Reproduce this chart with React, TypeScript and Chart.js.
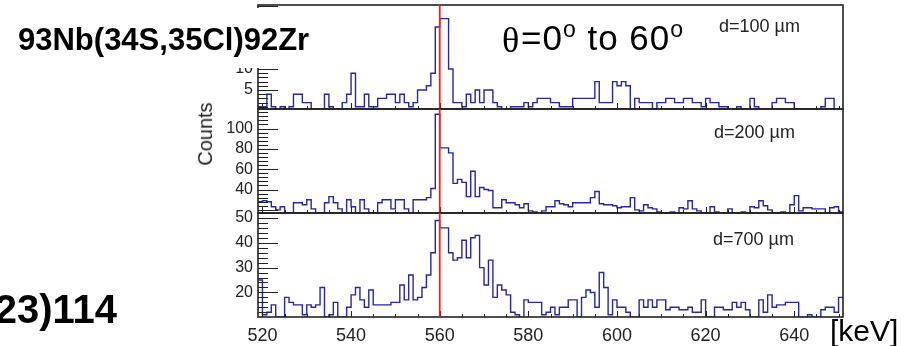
import React, { useEffect, useRef } from "react";
import { Chart, registerables } from "chart.js";

Chart.register(...registerables);

// ---------------- data ----------------
const BIN_START_KEV = 519; // 1 keV bins
const X_MIN = 519;
const X_MAX = 651;
const X_TICK_LABELS = [520, 540, 560, 580, 600, 620, 640];
const RED_LINE_KEV = 560;

const COUNTS_D100 = [
  1, 1, 4, 1, 0, 1, 0, 1, 4, 4, 2, 2, 0, 0, 0, 4, 1, 0, 0, 2,
  4, 9, 1, 1, 4, 1, 1, 3, 3, 4, 4, 2, 4, 2, 1, 2, 5, 5, 6, 9,
  20, 22, 22, 10, 2, 2, 1, 4, 2, 5, 2, 5, 5, 2, 1, 0, 0, 1, 1, 1,
  2, 1, 2, 3, 3, 3, 2, 2, 1, 1, 1, 3, 3, 3, 3, 3, 7, 2, 2, 2,
  7, 6, 7, 6, 0, 3, 2, 2, 2, 0, 2, 2, 3, 3, 2, 2, 3, 3, 2, 2,
  1, 3, 2, 2, 1, 1, 0, 0, 1, 0, 0, 3, 1, 0, 0, 0, 2, 3, 3, 2,
  2, 0, 0, 0, 0, 0, 0, 1, 3, 3, 0, 0,
];

const COUNTS_D200 = [
  28, 29, 28, 23, 20, 23, 17, 17, 27, 27, 25, 30, 21, 17, 17, 27, 33, 27, 21, 17,
  30, 23, 17, 30, 21, 17, 17, 27, 30, 30, 21, 30, 30, 21, 17, 30, 30, 30, 32, 41,
  114, 81, 81, 76, 46, 50, 47, 33, 58, 33, 42, 40, 39, 22, 22, 30, 27, 27, 25, 22,
  26, 19, 18, 17, 19, 23, 23, 29, 26, 25, 23, 27, 27, 27, 27, 32, 38, 26, 25, 25,
  24, 22, 23, 23, 32, 20, 19, 25, 22, 21, 18, 17, 17, 18, 17, 22, 21, 29, 21, 19,
  17, 17, 23, 18, 17, 17, 21, 17, 17, 18, 17, 23, 22, 29, 24, 20, 17, 17, 18, 17,
  25, 34, 19, 22, 22, 21, 21, 21, 17, 22, 23, 18,
];

const COUNTS_D700 = [
  25, 11, 12, 15, 10, 10, 18, 16, 15, 15, 11, 15, 14, 15, 22, 10, 11, 16, 10, 10,
  14, 19, 22, 17, 14, 21, 15, 15, 15, 15, 16, 16, 23, 17, 27, 17, 18, 22, 27, 36,
  49, 46, 46, 36, 33, 34, 41, 34, 42, 43, 30, 23, 33, 18, 23, 21, 19, 12, 11, 10,
  17, 16, 16, 16, 11, 12, 14, 11, 14, 14, 17, 17, 10, 18, 21, 20, 14, 28, 22, 11,
  17, 14, 14, 12, 10, 10, 17, 14, 17, 14, 17, 17, 13, 14, 14, 13, 13, 14, 12, 12,
  17, 10, 10, 14, 14, 13, 13, 16, 14, 16, 13, 10, 10, 17, 12, 19, 14, 15, 15, 16,
  16, 16, 10, 10, 11, 10, 10, 13, 14, 14, 12, 18,
];

const Y_TICKS_D100 = [5, 10];
const Y_TICKS_D200 = [40, 60, 80, 100];
const Y_TICKS_D700 = [20, 30, 40, 50];

const PANEL_LABELS = ["d=100 µm", "d=200 µm", "d=700 µm"];
const TITLE_TEXT = "93Nb(34S,35Cl)92Zr";
const LOWER_TEXT = "23)114";
const Y_TITLE = "Counts";
const X_UNIT = "[keV]";

// ---------------- styling / layout ----------------
const FONT = "'Liberation Sans', Arial, Helvetica, sans-serif";
const SERIF = "'Liberation Serif', 'Times New Roman', serif";
const HIST_COLOR = "#2626a6";
const FRAME_COLOR = "#222";

const PLOT_LEFT = 258;
const PLOT_RIGHT = 843;
const Y_AXIS_W = 40;
const X_AXIS_H = 26;
const W = 910;
const H = 346;

type Panel = {
  counts: number[];
  yMin: number;
  yMax: number;
  yTicks: number[];
  minorStep: number;
  majorStep: number;
  top: number;
  bottom: number;
  showX: boolean;
};

const PANELS: Panel[] = [
  { counts: COUNTS_D100, yMin: 0.48, yMax: 25.24, yTicks: Y_TICKS_D100, minorStep: 1, majorStep: 5, top: 5, bottom: 109, showX: false },
  { counts: COUNTS_D200, yMin: 16.9, yMax: 119.2, yTicks: Y_TICKS_D200, minorStep: 4, majorStep: 20, top: 109, bottom: 213, showX: false },
  { counts: COUNTS_D700, yMin: 10.1, yMax: 52.0, yTicks: Y_TICKS_D700, minorStep: 2, majorStep: 10, top: 213, bottom: 317, showX: true },
];

function makePanelPlugin(p: Panel) {
  return {
    id: "panelDecor",
    afterDatasetsDraw(chart: any) {
      const { ctx, chartArea: a, scales } = chart;
      const x = scales.x;
      const y = scales.y;
      ctx.save();
      ctx.strokeStyle = FRAME_COLOR;
      ctx.lineWidth = 1;
      // y ticks (inside)
      for (let k = Math.ceil(p.yMin / p.minorStep); k * p.minorStep <= p.yMax + 1e-9; k++) {
        const v = k * p.minorStep;
        const py = Math.round(y.getPixelForValue(v)) + 0.5;
        const major = Math.abs(v / p.majorStep - Math.round(v / p.majorStep)) < 1e-9;
        ctx.beginPath();
        ctx.moveTo(a.left, py);
        ctx.lineTo(a.left + (major ? 20 : 10), py);
        ctx.stroke();
      }
      // x ticks (inside, bottom)
      for (let v = 520; v <= 650; v += 5) {
        const px = Math.round(x.getPixelForValue(v)) + 0.5;
        const len = v % 20 === 0 ? 6 : 3;
        ctx.beginPath();
        ctx.moveTo(px, a.bottom);
        ctx.lineTo(px, a.bottom - len);
        ctx.stroke();
      }
      // frame
      ctx.lineWidth = 1.6;
      ctx.strokeRect(a.left, a.top, a.right - a.left, a.bottom - a.top);
      // red marker line
      const rx = x.getPixelForValue(RED_LINE_KEV);
      ctx.strokeStyle = "#ff1a1a";
      ctx.lineWidth = 1.8;
      ctx.beginPath();
      ctx.moveTo(rx, a.top);
      ctx.lineTo(rx, a.bottom);
      ctx.stroke();
      ctx.restore();
    },
  };
}

function makeChart(canvas: HTMLCanvasElement, p: Panel) {
  const pts = p.counts.map((v, i) => ({ x: BIN_START_KEV + i, y: v }));
  pts.push({ x: BIN_START_KEV + p.counts.length, y: p.counts[p.counts.length - 1] });
  return new Chart(canvas, {
    type: "line",
    data: {
      datasets: [
        {
          data: pts,
          stepped: "before",
          borderColor: HIST_COLOR,
          borderWidth: 1.4,
          pointRadius: 0,
          fill: false,
          tension: 0,
        } as any,
      ],
    },
    options: {
      animation: false,
      responsive: false,
      maintainAspectRatio: false,
      devicePixelRatio: 1,
      events: [],
      layout: {
        padding: {
          left: PLOT_LEFT - Y_AXIS_W,
          right: W - PLOT_RIGHT,
          top: p.top,
          bottom: H - p.bottom - (p.showX ? X_AXIS_H : 0),
        },
      },
      plugins: {
        legend: { display: false },
        tooltip: { enabled: false },
        title: { display: false },
      },
      scales: {
        x: {
          type: "linear",
          min: X_MIN,
          max: X_MAX,
          display: p.showX,
          grid: { display: false, drawTicks: false },
          border: { display: false },
          ticks: {
            font: { family: FONT, size: 18 },
            color: "#222",
            padding: 8,
            maxRotation: 0,
            autoSkip: false,
            callback: (v: any) => String(v),
          },
          afterBuildTicks: (s: any) => {
            s.ticks = X_TICK_LABELS.map((v) => ({ value: v }));
          },
          afterFit: (s: any) => {
            s.height = p.showX ? X_AXIS_H : 0;
            s.paddingLeft = 0;
            s.paddingRight = 0;
          },
        },
        y: {
          type: "linear",
          min: p.yMin,
          max: p.yMax,
          grid: { display: false, drawTicks: false },
          border: { display: false },
          ticks: {
            font: { family: FONT, size: 16 },
            color: "#222",
            padding: 5,
            autoSkip: false,
            callback: (v: any) => String(v),
          },
          afterBuildTicks: (s: any) => {
            s.ticks = p.yTicks.map((v) => ({ value: v }));
          },
          afterFit: (s: any) => {
            s.width = Y_AXIS_W;
            s.paddingTop = 0;
            s.paddingBottom = 0;
          },
        },
      },
    } as any,
    plugins: [makePanelPlugin(p)],
  });
}

// baseline helper for Liberation Sans with line-height = font size
const sansTop = (baseline: number, size: number) => baseline - 0.8465 * size;
const serifTop = (baseline: number, size: number) => baseline - 0.8375 * size;

const LABEL_POS = [
  { left: 719, baseline: 32 },
  { left: 714, baseline: 138 },
  { left: 713, baseline: 245 },
];

export default function App() {
  const r0 = useRef<HTMLCanvasElement>(null);
  const r1 = useRef<HTMLCanvasElement>(null);
  const r2 = useRef<HTMLCanvasElement>(null);

  useEffect(() => {
    const refs = [r0, r1, r2];
    const charts = PANELS.map((p, k) => makeChart(refs[k].current as HTMLCanvasElement, p));
    return () => charts.forEach((c) => c.destroy());
  }, []);

  const canvasStyle: React.CSSProperties = { position: "absolute", left: 0, top: 0, width: W, height: H };
  const abs = (o: React.CSSProperties): React.CSSProperties => ({ position: "absolute", whiteSpace: "nowrap", margin: 0, ...o });

  return (
    <div style={{ position: "absolute", left: 0, top: 0, width: W, height: H, background: "#fff", overflow: "hidden" }}>
      <canvas ref={r0} width={W} height={H} style={canvasStyle} />
      <canvas ref={r1} width={W} height={H} style={canvasStyle} />
      <canvas ref={r2} width={W} height={H} style={canvasStyle} />

      {/* white box behind the reaction title */}
      <div style={abs({ left: 0, top: 8, width: 322, height: 60, background: "#fff" })} />
      <div style={abs({ left: 18, top: sansTop(50, 31), fontFamily: FONT, fontWeight: 700, fontSize: 31, lineHeight: "31px", color: "#000" })}>
        {TITLE_TEXT}
      </div>

      {/* theta annotation */}
      <div style={abs({ left: 502, top: serifTop(52, 36), fontFamily: SERIF, fontSize: 36, lineHeight: "36px", color: "#000" })}>θ</div>
      <div style={abs({ left: 521, top: sansTop(50, 35), fontFamily: FONT, fontSize: 35, lineHeight: "35px", color: "#000", letterSpacing: 1 })}>
        =0<span style={{ fontSize: 23, position: "relative", top: -13 }}>o</span> to 60
        <span style={{ fontSize: 23, position: "relative", top: -13 }}>o</span>
      </div>

      {PANEL_LABELS.map((t, k) => (
        <div
          key={t}
          style={abs({
            left: LABEL_POS[k].left,
            top: sansTop(LABEL_POS[k].baseline, 18),
            fontFamily: FONT,
            fontSize: 18,
            lineHeight: "18px",
            color: "#222",
          })}
        >
          {t}
        </div>
      ))}

      {/* y axis title */}
      <div
        style={abs({
          left: 204.5,
          top: 134,
          fontFamily: FONT,
          fontSize: 20,
          lineHeight: "20px",
          color: "#222",
          transform: "translate(-50%, -50%) rotate(-90deg)",
        })}
      >
        {Y_TITLE}
      </div>

      {/* x unit */}
      <div style={abs({ left: 830, top: sansTop(341, 30), fontFamily: FONT, fontSize: 30, lineHeight: "30px", color: "#000" })}>
        {X_UNIT}
      </div>

      {/* clipped lower-left label */}
      <div
        style={abs({
          right: W - 117,
          top: sansTop(323, 40),
          fontFamily: FONT,
          fontWeight: 700,
          fontSize: 40,
          lineHeight: "40px",
          color: "#000",
          textAlign: "right",
        })}
      >
        {LOWER_TEXT}
      </div>
    </div>
  );
}
